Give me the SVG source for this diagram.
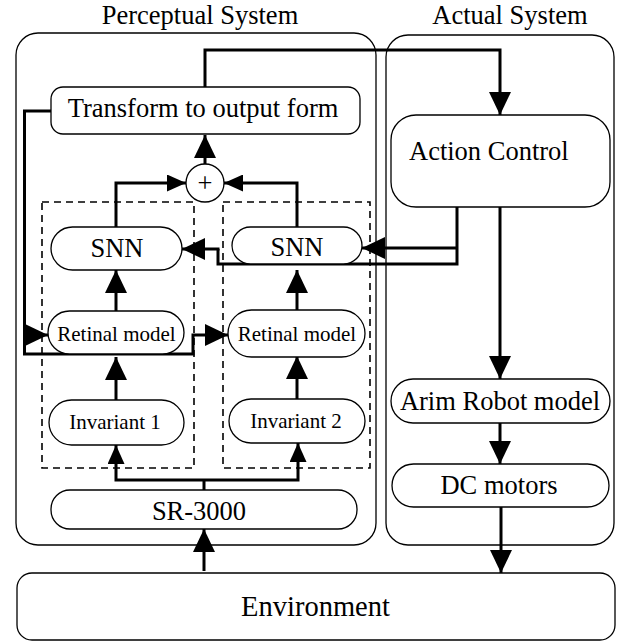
<svg xmlns="http://www.w3.org/2000/svg" width="619" height="644" viewBox="0 0 619 644">
<style>
text{font-family:"Liberation Serif","Times New Roman",serif;fill:#000}
.t{font-size:26.5px;text-anchor:middle}
.s{font-size:21px;text-anchor:middle}
.box{fill:#fff;stroke:#000;stroke-width:1.3}
.sys{fill:none;stroke:#000;stroke-width:1.3}
.dash{fill:none;stroke:#000;stroke-width:1.6;stroke-dasharray:7 5}
.c{fill:none;stroke:#000;stroke-width:3;stroke-linejoin:miter}
.a{marker-end:url(#ah)}
.b{marker-end:url(#as)}
</style>
<defs>
<marker id="ah" markerUnits="userSpaceOnUse" markerWidth="24" markerHeight="22" refX="23" refY="11" orient="auto"><path d="M0,0 L23,11 L0,22 z" fill="#000"/></marker>
<marker id="as" markerUnits="userSpaceOnUse" markerWidth="20" markerHeight="17" refX="19" refY="8.5" orient="auto"><path d="M0,0 L19,8.5 L0,17 z" fill="#000"/></marker>
</defs>
<g id="perceptual-system"><rect class="sys" x="16" y="33" width="360" height="512" rx="22"/><text class="t" x="200" y="24">Perceptual System</text></g>
<g id="actual-system"><rect class="sys" x="386" y="35" width="228" height="510" rx="22"/><text class="t" x="510" y="24">Actual System</text></g>
<g id="dashed-groups"><rect class="dash" x="42" y="202" width="152" height="266"/><rect class="dash" x="223" y="202" width="147" height="266"/></g>
<g id="connectors">
<path class="c a" d="M205,87 V50 H500 V115"/>
<path class="c a" d="M205,164 V135"/>
<path class="c b" d="M116,227 V183 H186"/>
<path class="c b" d="M297,227 V183 H224"/>
<path class="c a" d="M51,111 H24.5 V354 H193 V335 H228"/>
<path class="c a" d="M24.5,335 H48"/>
<path class="c" d="M457,207 V264 H218 V249"/>
<path class="c a" d="M457,248 H362"/>
<path class="c a" d="M219.5,249 H182"/>
<path class="c a" d="M116,311 V270"/>
<path class="c a" d="M297,310 V270"/>
<path class="c a" d="M116,400 V357"/>
<path class="c a" d="M297,399 V356"/>
<path class="c" d="M204,490 V480"/>
<path class="c b" d="M204,480 H116 V445"/>
<path class="c b" d="M204,480 H298 V443"/>
<path class="c a" d="M204,571 V529"/>
<path class="c a" d="M500,207 V379"/>
<path class="c a" d="M500,423 V464"/>
<path class="c a" d="M501,507 V573"/>
</g>
<g id="transform"><rect class="box" x="51" y="87" width="309" height="47" rx="12"/><text class="t" x="203" y="117">Transform to output form</text></g>
<g id="sum"><circle class="box" cx="205" cy="183" r="19"/><text class="t" x="205" y="192">+</text></g>
<g id="action-control"><rect class="box" x="391" y="115" width="219" height="92" rx="25"/><text class="t" x="409" y="160" style="text-anchor:start">Action Control</text></g>
<g id="snn1"><rect class="box" x="51" y="227" width="131" height="43" rx="21.5"/><text class="t" x="117" y="257">SNN</text></g>
<g id="snn2"><rect class="box" x="232" y="227" width="130" height="37" rx="18.5"/><text class="t" x="297" y="256">SNN</text></g>
<g id="retinal1"><rect class="box" x="48" y="311" width="136" height="43" rx="21.5"/><text class="s" x="116.5" y="341">Retinal model</text></g>
<g id="retinal2"><rect class="box" x="228" y="310" width="137" height="47" rx="23.5"/><text class="s" x="297" y="341">Retinal model</text></g>
<g id="invariant1"><rect class="box" x="49" y="400" width="135" height="45" rx="22.5"/><text class="s" x="115" y="429">Invariant 1</text></g>
<g id="invariant2"><rect class="box" x="229" y="399" width="136" height="44" rx="22"/><text class="s" x="296" y="428">Invariant 2</text></g>
<g id="sr3000"><rect class="box" x="51" y="490" width="306" height="39" rx="19"/><text class="t" x="199" y="520">SR-3000</text></g>
<g id="arim"><rect class="box" x="391" y="379" width="219" height="44" rx="22"/><text class="t" x="500" y="410">Arim Robot model</text></g>
<g id="dc-motors"><rect class="box" x="392" y="464" width="217" height="43" rx="21.5"/><text class="t" x="499" y="494">DC motors</text></g>
<g id="environment"><rect class="box" x="17" y="573" width="598" height="67" rx="15"/><text class="t" x="315.5" y="616" style="font-size:28.5px">Environment</text></g>
</svg>
